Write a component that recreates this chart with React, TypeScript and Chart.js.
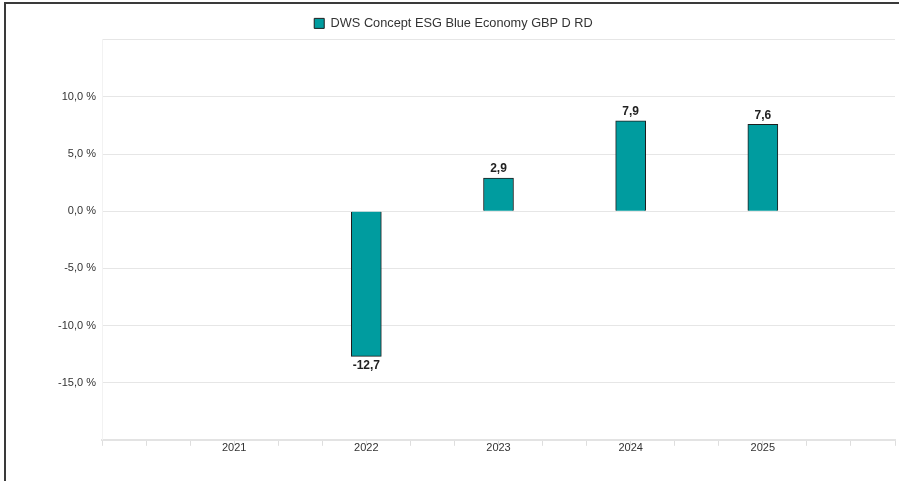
import React, { useEffect, useRef } from "react";
import { Chart, registerables } from "chart.js";

Chart.register(...registerables);

const seriesName = "DWS Concept ESG Blue Economy GBP D RD";
const years = ["2021", "2022", "2023", "2024", "2025"];
const values: (number | null)[] = [null, -12.7, 2.9, 7.9, 7.6];
const yMin = -20;
const yMax = 15;
const yStep = 5;
const hiddenYTicks = [15, -20];
const firstYear = 2020;
const lastYear = 2026;
const subTicksPerYear = 3;

const TEAL = "#009C9F";
const BAR_BORDER = "#1e1e1e";
const TEXT = "#333333";
const FONT = "'Liberation Sans', Arial, Helvetica, sans-serif";

const fmt = (v: number, d: number) => v.toFixed(d).replace(".", ",");

const valueLabels = {
  id: "valueLabels",
  afterDatasetsDraw(chart: any) {
    const { ctx } = chart;
    const meta = chart.getDatasetMeta(0);
    ctx.save();
    ctx.font = `bold 12px ${FONT}`;
    ctx.fillStyle = "#222222";
    ctx.textAlign = "center";
    meta.data.forEach((el: any, i: number) => {
      const raw = chart.data.datasets[0].data[i];
      if (!raw || raw.y === null || raw.y === undefined) return;
      const v = raw.y as number;
      const txt = fmt(v, 1);
      if (v >= 0) {
        ctx.textBaseline = "bottom";
        ctx.fillText(txt, el.x, el.y - 3);
      } else {
        ctx.textBaseline = "top";
        ctx.fillText(txt, el.x, el.y + 3);
      }
    });
    ctx.restore();
  },
};

export default function App() {
  const ref = useRef<HTMLCanvasElement | null>(null);

  useEffect(() => {
    if (!ref.current) return;
    const data = years.map((y, i) => ({
      x: (Number(y) - firstYear) * subTicksPerYear,
      y: values[i],
    }));
    const chart = new Chart(ref.current, {
      type: "bar",
      data: {
        datasets: [
          {
            label: seriesName,
            data: data as any,
            backgroundColor: TEAL,
            borderColor: BAR_BORDER,
            borderWidth: 1,
            barThickness: 30,
          },
        ],
      },
      options: {
        animation: false,
        responsive: false,
        devicePixelRatio: 1,
        layout: { padding: { top: 7, right: 4, bottom: 30, left: 12 } },
        plugins: {
          legend: {
            display: true,
            position: "top",
            labels: {
              boxWidth: 10,
              boxHeight: 10,
              padding: 10,
              color: TEXT,
              font: { family: FONT, size: 12.75 },
            },
          },
          tooltip: { enabled: false },
        },
        scales: {
          x: {
            type: "linear",
            min: 0,
            max: (lastYear - firstYear) * subTicksPerYear,
            offset: false,
            border: { display: true, color: "#e3e3e3", width: 2 },
            grid: {
              offset: false,
              drawOnChartArea: false,
              drawTicks: true,
              tickLength: 6,
              color: "#dedede",
            },
            ticks: {
              stepSize: 1,
              autoSkip: false,
              maxRotation: 0,
              padding: -4,
              color: TEXT,
              font: { family: FONT, size: 11 },
              callback: (v: any) => {
                const n = Number(v);
                if (n % subTicksPerYear !== 0) return "";
                const yr = String(firstYear + n / subTicksPerYear);
                return years.includes(yr) ? yr : "";
              },
            },
          },
          y: {
            min: yMin,
            max: yMax,
            border: { display: true, color: "#f2f2f2", width: 1 },
            grid: { color: "#e6e6e6", drawTicks: false },
            ticks: {
              stepSize: yStep,
              padding: 6,
              color: TEXT,
              font: { family: FONT, size: 11 },
              callback: (v: any) =>
                hiddenYTicks.includes(Number(v)) ? "" : fmt(Number(v), 1) + " %",
            },
            afterFit: (scale: any) => {
              scale.width = 90;
            },
          },
        },
      },
      plugins: [valueLabels],
    });
    return () => chart.destroy();
  }, []);

  return (
    <div style={{ position: "fixed", left: 0, top: 0, width: 899, height: 481, background: "#fff", overflow: "hidden" }}>
      <canvas ref={ref} width={899} height={481} style={{ position: "absolute", left: 0, top: 0, width: 899, height: 481 }} />
      <div
        style={{
          position: "absolute",
          left: 4,
          top: 2,
          width: 2000,
          height: 2000,
          borderLeft: "2px solid #3a3a3a",
          borderTop: "2px solid #3a3a3a",
          pointerEvents: "none",
        }}
      />
    </div>
  );
}
